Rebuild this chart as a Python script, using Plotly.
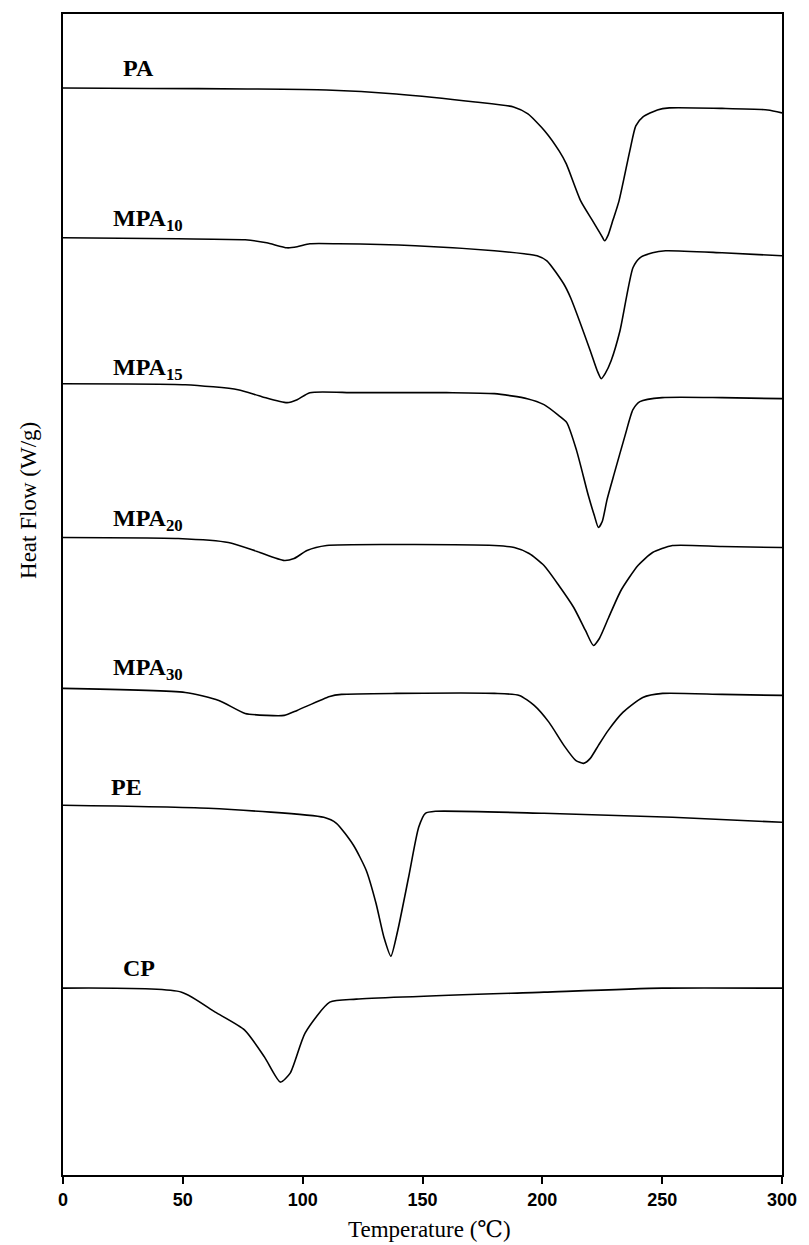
import plotly.graph_objects as go

# Temperature (°C) and heat flow (arbitrary, vertically offset units) for each DSC trace
PA_T = [0, 36, 77, 110, 139, 172, 188, 194, 201, 207, 210, 216, 221, 224.5, 226, 227.5, 229.5, 232, 236.5, 239, 242, 248, 253, 275, 294, 300]
PA_HF = [108.8, 108.75, 108.7, 108.6, 108.2, 107.4, 106.9, 106.2, 104.5, 102.5, 101.2, 97.5, 95.5, 94.1, 93.5, 94.1, 95.6, 97.5, 102.5, 105.0, 105.9, 106.6, 106.8, 106.75, 106.6, 106.3]

MPA10_T = [0, 48, 76, 85, 93.5, 97.7, 103, 115, 147, 180, 192.4, 197.8, 201.9, 208.9, 211.8, 220, 222.9, 224.6, 226.2, 228.7, 232.4, 237.8, 240.7, 246, 251.4, 275, 300]
MPA10_HF = [93.8, 93.7, 93.6, 93.3, 92.8, 92.9, 93.2, 93.2, 93.0, 92.5, 92.2, 92.0, 91.5, 89.2, 87.8, 82.5, 80.5, 79.7, 80.2, 81.5, 84.5, 90.8, 91.8, 92.3, 92.5, 92.3, 92.0]

MPA15_T = [0, 51, 73, 83, 93.5, 97.7, 103, 122, 160, 180, 193.7, 200.7, 206.9, 210.2, 214.3, 219.2, 221.7, 223.4, 225, 227, 230, 234.5, 237.8, 240.7, 250, 275, 300]
MPA15_HF = [79.2, 79.1, 78.6, 77.9, 77.3, 77.6, 78.3, 78.3, 78.3, 78.2, 77.7, 77.1, 76.0, 75.3, 72.5, 68.0, 66.0, 64.8, 65.4, 67.6, 70.2, 74.0, 76.6, 77.4, 77.8, 77.8, 77.7]

MPA20_T = [0, 48, 69, 81, 92.3, 96.4, 101.8, 110, 139, 180, 188.3, 194.5, 200.7, 206.9, 213.1, 218, 221.3, 223.8, 227.5, 232.8, 239.9, 246, 254.3, 275, 300]
MPA20_HF = [63.8, 63.7, 63.3, 62.4, 61.5, 61.7, 62.5, 63.0, 63.1, 63.0, 62.8, 62.2, 61.0, 59.0, 56.8, 54.5, 53.0, 53.7, 55.7, 58.5, 61.0, 62.3, 63.0, 62.9, 62.8]

MPA30_T = [0, 51, 65, 76, 85, 92.3, 97.7, 111.3, 116.2, 139, 180, 190.4, 196.6, 202.8, 209, 213.9, 217.2, 220, 223.4, 227.5, 233.6, 241.9, 250.2, 275, 300]
MPA30_HF = [48.7, 48.3, 47.5, 46.2, 46.0, 46.0, 46.5, 47.9, 48.1, 48.2, 48.2, 48.0, 47.0, 45.3, 43.0, 41.5, 41.2, 41.7, 43.0, 44.5, 46.3, 47.8, 48.2, 48.1, 48.0]

PE_T = [0, 60.6, 108.8, 114.1, 121.2, 126.5, 130.6, 133.9, 136.8, 139.7, 144.2, 148.4, 151.2, 155.4, 200.7, 254.3, 300]
PE_HF = [37.0, 36.7, 35.8, 35.2, 33.0, 30.5, 27.2, 23.8, 21.9, 24.5, 29.8, 34.8, 36.2, 36.4, 36.2, 35.8, 35.3]

CP_T = [0, 49.5, 63.5, 75.8, 84.1, 90.7, 94.8, 101, 111.3, 122.4, 200.7, 250, 300]
CP_HF = [18.7, 18.3, 16.3, 14.5, 11.8, 9.3, 10.2, 14.2, 17.3, 17.6, 18.3, 18.7, 18.7]

LABELS = ["PA", "MPA<sub>10</sub>", "MPA<sub>15</sub>", "MPA<sub>20</sub>", "MPA<sub>30</sub>", "PE", "CP"]
LABEL_T = [31.7, 35.4, 35.4, 35.4, 35.4, 26.4, 31.9]
LABEL_HF = [110.8, 95.6, 80.7, 65.6, 50.6, 38.8, 20.7]

X_TICKS = [0, 50, 100, 150, 200, 250, 300]

series = [(PA_T, PA_HF), (MPA10_T, MPA10_HF), (MPA15_T, MPA15_HF), (MPA20_T, MPA20_HF),
          (MPA30_T, MPA30_HF), (PE_T, PE_HF), (CP_T, CP_HF)]

serif = "Liberation Serif, DejaVu Serif, Times New Roman, serif"

fig = go.Figure()
for (t, hf), name in zip(series, LABELS):
    fig.add_trace(go.Scatter(x=t, y=hf, mode="lines", name=name,
                             line=dict(color="black", width=1.6, shape="spline", smoothing=0.6),
                             showlegend=False, hoverinfo="skip"))

for name, t, hf in zip(LABELS, LABEL_T, LABEL_HF):
    fig.add_annotation(x=t, y=hf, xref="x", yref="y", text=name,
                       showarrow=False, xanchor="center", yanchor="middle",
                       font=dict(family=serif, size=24, color="black", weight="bold"))

fig.add_annotation(x=-0.048, y=0.581, xref="paper", yref="paper", text="Heat Flow (W/g)",
                   textangle=-90, showarrow=False, xanchor="center", yanchor="middle",
                   font=dict(family=serif, size=23, color="black"))
fig.add_annotation(x=0.51, y=-0.0592, xref="paper", yref="paper", text="Temperature (℃)",
                   showarrow=False, xanchor="center", yanchor="bottom",
                   font=dict(family=serif, size=23, color="black"))

fig.update_xaxes(range=[0, 300], tickvals=X_TICKS, ticktext=[str(v) for v in X_TICKS],
                 ticks="outside", ticklen=7, tickwidth=1.5, tickcolor="black",
                 showline=True, linecolor="black", linewidth=2, mirror=True,
                 showgrid=False, zeroline=False,
                 tickfont=dict(family="Liberation Sans, Arial, sans-serif", size=18, color="black", weight="bold"))
fig.update_yaxes(range=[0, 116.2], showticklabels=False, ticks="",
                 showline=True, linecolor="black", linewidth=1.5, mirror=True,
                 showgrid=False, zeroline=False)

fig.update_layout(width=809, height=1245, margin=dict(l=63, r=18, t=13, b=70),
                  plot_bgcolor="white", paper_bgcolor="white")

fig.write_html("out.html", config={"displayModeBar": False},
               post_script="document.body.style.margin='0';document.body.style.overflow='hidden';")
